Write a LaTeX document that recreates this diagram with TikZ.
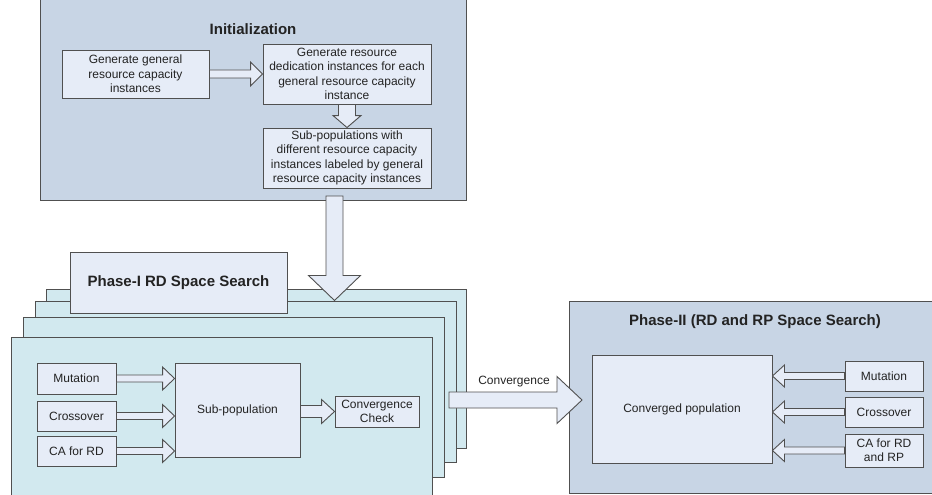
\documentclass[tikz,border=0pt]{standalone}
\usepackage{fontspec}
\setmainfont{Liberation Sans}
\usetikzlibrary{calc}
\definecolor{initfill}{RGB}{200,213,229}
\definecolor{boxfill}{RGB}{230,236,247}
\definecolor{stackfill}{RGB}{210,233,239}
\definecolor{edgecol}{RGB}{80,80,80}
\definecolor{txtcol}{RGB}{35,35,35}
\tikzset{
  every node/.style={font=\fontsize{12}{14.3}\selectfont, text=txtcol},
  panel/.style={draw=edgecol, line width=1pt, fill=initfill, inner sep=0pt},
  stackrect/.style={draw=edgecol, line width=1pt, fill=stackfill, inner sep=0pt},
  box/.style={draw=edgecol, line width=0.9pt, fill=boxfill, align=center, inner sep=0pt},
  titletext/.style={font=\fontsize{15}{18}\selectfont\bfseries},
  blkarrow/.style={draw=edgecol, line width=0.9pt, fill=boxfill, line join=miter},
}
% horizontal block arrow: start, end, shaft half width, head half width, signed head length
\newcommand\harr[5]{%
  \draw[blkarrow] let \p1=(#1), \p2=(#2) in
    (\x1,{\y1+#3}) -- ({\x2-(#5)},{\y1+#3}) -- ({\x2-(#5)},{\y1+#4}) -- (\x2,\y1)
    -- ({\x2-(#5)},{\y1-#4}) -- ({\x2-(#5)},{\y1-#3}) -- (\x1,{\y1-#3}) -- cycle;}
% downward block arrow
\newcommand\varr[5]{%
  \draw[blkarrow] let \p1=(#1), \p2=(#2) in
    ({\x1-#3},\y1) -- ({\x1-#3},{\y2+#5}) -- ({\x1-#4},{\y2+#5}) -- (\x1,\y2)
    -- ({\x1+#4},{\y2+#5}) -- ({\x1+#3},{\y2+#5}) -- ({\x1+#3},\y1) -- cycle;}
\begin{document}
\begin{tikzpicture}[x=1pt,y=-1pt]
\useasboundingbox (0,0) rectangle (932,495);

% ---------- Initialization ----------
\node[panel, minimum width=426, minimum height=205] (init) at (253,97.5) {};
\node[titletext] (initT) at (253,29) {Initialization};
\node[box, minimum width=147, minimum height=48] (genA) at (135.5,74)
  {Generate general\\resource capacity\\instances};
\node[box, minimum width=168, minimum height=60] (genB) at (347,74)
  {Generate resource\\dedication instances for each\\general resource capacity\\instance};
\node[box, minimum width=168, minimum height=60] (subC) at (347,158)
  {Sub-populations with\\different resource capacity\\instances labeled by general\\resource capacity instances};
\harr{genA.east}{genB.west}{4}{12}{12}
\varr{genB.south}{subC.north}{8.5}{14}{12}

% ---------- Phase I stack ----------
\node[stackrect, minimum width=420, minimum height=159] (r1) at (256,368.5) {};
\node[stackrect, minimum width=421, minimum height=161] (r2) at (245.5,381.5) {};
\node[stackrect, minimum width=421, minimum height=160] (r3) at (233.5,397) {};
\node[stackrect, minimum width=421, minimum height=163] (r4) at (221.5,418.5) {};
\node[box, minimum width=217, minimum height=61, titletext] (p1T) at (178.5,282.5)
  {Phase-I RD Space Search};
\coordinate (iaS) at (334.5,196);
\varr{iaS}{iaS |- r2.north}{8.5}{26}{25}

\node[box, minimum width=79, minimum height=31] (mut1) at (76.5,378.5) {Mutation};
\node[box, minimum width=79, minimum height=30] (cro1) at (76.5,416) {Crossover};
\node[box, minimum width=79, minimum height=30] (ca1) at (76.5,451) {CA for RD};
\node[box, minimum width=125, minimum height=94] (sub) at (237.5,410) {Sub-population};
\node[box, minimum width=84, minimum height=31] (conv) at (377,411.5) {Convergence\\Check};
\harr{mut1.east}{mut1.east -| sub.west}{3.5}{11.5}{12}
\harr{cro1.east}{cro1.east -| sub.west}{3.5}{11.5}{12}
\harr{ca1.east}{ca1.east -| sub.west}{3.5}{11.5}{12}
\harr{sub.east |- conv.west}{conv.west}{6}{12}{13}

% ---------- Phase II ----------
\node[panel, minimum width=371, minimum height=192] (ph2) at (754.5,397) {};
\node[titletext] (ph2T) at (755,322) {Phase-II (RD and RP Space Search)};
\node[box, minimum width=180, minimum height=108] (cpop) at (682,409) {Converged population};
\node[box, minimum width=78, minimum height=30] (mut2) at (884,376) {Mutation};
\node[box, minimum width=78, minimum height=30] (cro2) at (884,412) {Crossover};
\node[box, minimum width=78, minimum height=33] (ca2) at (884,450.5) {CA for RD\\and RP};
\harr{mut2.west}{mut2.west -| cpop.east}{3.5}{11}{-12}
\harr{cro2.west}{cro2.west -| cpop.east}{3.5}{11}{-12}
\harr{ca2.west}{ca2.west -| cpop.east}{3.5}{11}{-12}

% ---------- Convergence arrow ----------
\coordinate (cvS) at (449,400);
\coordinate (cvE) at (582,400);
\harr{cvS}{cvE}{8}{23.5}{25}
\node (cvL) at (514,382) {Convergence};
\end{tikzpicture}
\end{document}
